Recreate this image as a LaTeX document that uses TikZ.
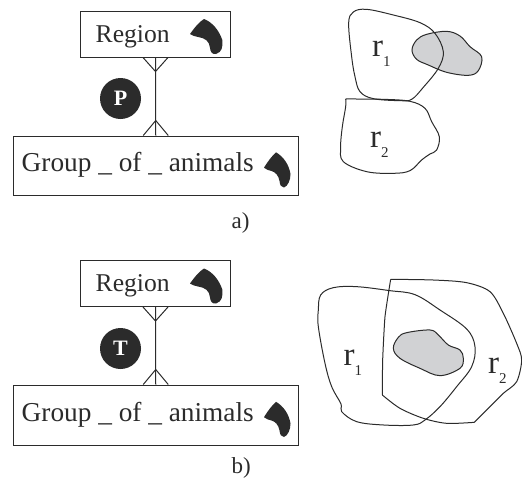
\documentclass[tikz,border=0pt]{standalone}
\usepackage{fontspec}
\setmainfont{Liberation Serif}
\definecolor{ink}{HTML}{2B2B2B}
\definecolor{shade}{HTML}{D1D2D4}
\newcommand{\rsubs}[1]{\raisebox{-10pt}{\fontsize{15}{18}\selectfont #1}}
\tikzset{
  ent/.style={draw=ink,line width=1pt,fill=none,inner sep=0pt},
  link/.style={draw=ink,line width=1pt},
  txt/.style={anchor=base west,inner sep=0pt,text=ink,font=\fontsize{25.6}{30}\selectfont},
  grptxt/.style={anchor=base west,inner sep=0pt,text=ink,font=\fontsize{27.3}{30}\selectfont},
  capt/.style={anchor=base west,inner sep=0pt,text=ink,font=\fontsize{23}{26}\selectfont},
  badge/.style={circle,fill=ink,minimum size=41pt,inner sep=0pt,text=white,font=\fontsize{22}{24}\selectfont\bfseries},
  rlab/.style={anchor=base west,inner sep=0pt,text=ink,font=\fontsize{33}{36}\selectfont},
  outline/.style={draw=ink,line width=1pt,line join=round},
  grey/.style={draw=ink,line width=1pt,fill=shade,line join=round},
}
\newcommand{\iconR}{(190,34) .. controls (195,27) and (199,22) .. (204,19) .. controls (212,22) and (219,30) .. (222.3,40) .. controls (223,47) and (222,52) .. (216,54) .. controls (212,54.5) and (210.5,52) .. (210,48) .. controls (209.5,41) and (205,38) .. (198,37) .. controls (195,36.5) and (192,35.5) .. (190,34) -- cycle}
\newcommand{\iconG}{(264,167.7) .. controls (268,161) and (272,156) .. (276,152.3) .. controls (284,157) and (289,165) .. (290.5,174) .. controls (290.5,180) and (288,186) .. (284,187.5) .. controls (281,187.5) and (280,185) .. (279.5,181) .. controls (278.5,175) and (275,172) .. (271.5,171) .. controls (269,170.5) and (266,169.5) .. (264,167.7) -- cycle}
\begin{document}
\begin{tikzpicture}[x=1pt,y=-1pt]
\useasboundingbox (0,0) rectangle (522,480);
% ---------- a)
\node[ent,minimum width=150pt,minimum height=46pt] (ra) at (155.5,34) {};
\node[ent,minimum width=285.5pt,minimum height=59.5pt] (ga) at (155.75,165.75) {};
\draw[link] (ra.south) -- (ga.north);
\coordinate (ra1) at ([xshift=-12.5pt]ra.south);
\coordinate (ra2) at ([xshift=12.5pt]ra.south);
\coordinate (ram) at ([yshift=-14pt]ra.south);
\coordinate (ga1) at ([xshift=-12.5pt]ga.north);
\coordinate (ga2) at ([xshift=12.5pt]ga.north);
\coordinate (gam) at ([yshift=15pt]ga.north);
\draw[link] (ra1) -- (ram) -- (ra2);
\draw[link] (ga1) -- (gam) -- (ga2);
\node[badge] (pa) at (120.5,98.5) {P};
\node[txt] (tra) at (95.5,42.7) {Region};
\node[grptxt] (tga) at (21.5,171.7) {Group \_ of \_ animals};
\fill[ink] \iconR;
\fill[ink] \iconG;
\node[capt] (la) at (231.5,228) {a)};
% ---------- b)
\node[ent,minimum width=150pt,minimum height=46pt] (rb) at (155.5,283.5) {};
\node[ent,minimum width=285.5pt,minimum height=60pt] (gb) at (155.75,415) {};
\draw[link] (rb.south) -- (gb.north);
\coordinate (rb1) at ([xshift=-12.5pt]rb.south);
\coordinate (rb2) at ([xshift=12.5pt]rb.south);
\coordinate (rbm) at ([yshift=-14pt]rb.south);
\coordinate (gb1) at ([xshift=-12.5pt]gb.north);
\coordinate (gb2) at ([xshift=12.5pt]gb.north);
\coordinate (gbm) at ([yshift=15pt]gb.north);
\draw[link] (rb1) -- (rbm) -- (rb2);
\draw[link] (gb1) -- (gbm) -- (gb2);
\node[badge] (pb) at (120.5,348.5) {T};
\node[txt] (trb) at (95.5,291.7) {Region};
\node[grptxt] (tgb) at (21.5,421) {Group \_ of \_ animals};
\begin{scope}[yshift=-249.5pt]
\fill[ink] \iconR;
\fill[ink] \iconG;
\end{scope}
\node[capt] (lb) at (231.5,473.5) {b)};
% ---------- regions a)
\begin{scope}[shift={(300pt,0pt)},x=0.3333pt,y=-0.3333pt]
\draw[grey] plot[smooth cycle,tension=0.6] coordinates {(336,150)(350,120)(380,103)(440,94)(480,108)(510,140)(545,170)(535,212)(505,226)(440,217)(385,195)(350,178)};
\draw[outline] plot[smooth cycle,tension=0.6] coordinates {(146,70)(160,36)(200,28)(280,45)(360,68)(405,100)(430,155)(415,205)(370,262)(335,298)(300,302)(220,296)(180,275)(165,230)(155,170)};
\draw[outline] plot[smooth,tension=0.6] coordinates {(137,297)(250,298)(330,304)(375,325)(395,365)(418,410)(410,450)(390,462)(365,480)(330,512)(280,520)(200,515)(130,485)(122,440)(127,380)(137,320)(137,297)};
\end{scope}
\node[rlab] (r1a) at (372,56) {r\rsubs{1}};
\node[rlab] (r2a) at (370,147.3) {r\rsubs{2}};
% ---------- regions b)
\begin{scope}[shift={(300pt,-250pt)},x=0.3333pt,y=-0.3333pt]
\draw[grey] plot[smooth cycle,tension=0.6] coordinates {(280,295)(295,262)(320,248)(390,240)(415,255)(445,285)(480,300)(490,325)(480,355)(420,377)(360,355)(300,325)};
\draw[outline] plot[smooth cycle,tension=0.6] coordinates {(55,180)(62,135)(100,113)(170,110)(270,122)(345,134)(420,180)(500,237)(525,290)(515,350)(470,410)(420,470)(375,510)(340,525)(250,525)(170,515)(125,485)(123,462)(95,410)(75,340)(55,230)};
\draw[outline] plot[smooth,tension=0.5] coordinates {(272,88)(400,90)(500,98)(570,125)(610,190)(650,280)(665,330)(650,395)(610,430)(570,470)(523,517)}
  plot[smooth,tension=0.5] coordinates {(523,517)(440,520)(370,505)(300,475)(247,435)}
  plot[smooth,tension=0.3] coordinates {(247,435)(248,330)(255,200)(272,88)};
\end{scope}
\node[rlab] (r1b) at (343.5,365) {r\rsubs{1}};
\node[rlab] (r2b) at (488,373.3) {r\rsubs{2}};
\end{tikzpicture}
\end{document}
